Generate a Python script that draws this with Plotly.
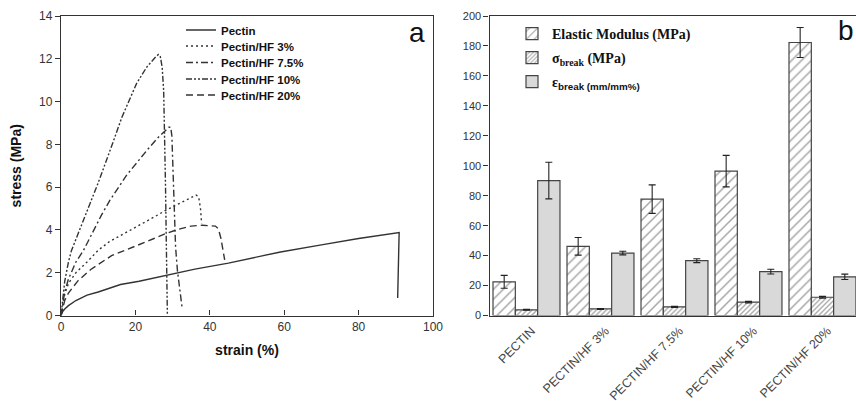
import plotly.graph_objects as go

# ---------------- Panel a: stress-strain curves ----------------
pectin_strain = [0, 0.5, 1, 2, 4, 7, 10, 16, 21, 28, 36, 45, 51, 59, 70, 80, 90.9, 90.5]
pectin_stress = [0, 0.2, 0.3, 0.46, 0.7, 0.95, 1.1, 1.45, 1.6, 1.87, 2.17, 2.45, 2.67, 2.97, 3.3, 3.6, 3.88, 0.82]

hf3_strain = [0, 0.5, 1, 2, 4, 7, 10, 13, 20, 25, 28, 32, 35, 36.3, 37.0, 37.5, 37.8]
hf3_stress = [0, 0.6, 1.0, 1.5, 2.0, 2.5, 3.05, 3.45, 4.1, 4.6, 4.9, 5.25, 5.5, 5.63, 5.55, 5.0, 4.3]

hf75_strain = [0, 0.5, 1, 2, 4, 6, 10.9, 13.2, 17.6, 23.1, 26, 29, 29.5, 29.8, 30.0, 30.3, 30.8, 31.3, 32, 32.6]
hf75_stress = [0, 0.6, 1.1, 1.7, 2.5, 3.03, 4.7, 5.4, 6.55, 7.72, 8.3, 8.8, 8.8, 8.4, 7.3, 5.0, 3.2, 2.1, 1.0, 0.3]

hf10_strain = [0, 0.5, 1, 2, 2.8, 5, 8.2, 10, 13.2, 16.4, 20.3, 23, 25.5, 26.2, 26.7, 27.2, 27.6, 27.9, 28.1, 28.3, 28.5, 28.6]
hf10_stress = [0, 0.9, 1.6, 2.5, 3.03, 4.0, 5.38, 6.2, 7.72, 9.28, 10.84, 11.6, 12.1, 12.2, 12.1, 11.6, 10.5, 8.5, 6.0, 3.5, 1.5, 0]

hf20_strain = [0, 0.5, 1, 2, 4.6, 8, 13.6, 18, 21.4, 25, 28, 31, 35, 38, 41.5, 42.3, 43, 43.5, 44]
hf20_stress = [0, 0.4, 0.7, 1.05, 1.63, 2.15, 2.8, 3.1, 3.36, 3.6, 3.82, 4.0, 4.18, 4.22, 4.18, 4.05, 3.6, 3.0, 2.6]

curve_names = ["Pectin", "Pectin/HF 3%", "Pectin/HF 7.5%", "Pectin/HF 10%", "Pectin/HF 20%"]

# ---------------- Panel b: mechanical properties ----------------
samples = ["PECTIN", "PECTIN/HF 3%", "PECTIN/HF 7.5%", "PECTIN/HF 10%", "PECTIN/HF 20%"]
modulus = [22.5, 46.2, 77.7, 96.4, 182.3]
modulus_err = [4.3, 5.9, 9.5, 10.5, 10.0]
sigma_break = [3.8, 4.4, 5.8, 8.9, 12.2]
sigma_err = [0.3, 0.3, 0.4, 0.5, 0.6]
eps_break = [90.1, 41.7, 36.6, 29.3, 25.8]
eps_err = [12.2, 1.2, 1.3, 1.6, 1.8]
prop_names = ["Elastic Modulus (MPa)",
              "σ<sub>break</sub> (MPa)",
              "ε<sub><span style='font-family:Liberation Sans'>break (mm/mm%)</span></sub>"]

W, H = 856, 401
def px(x): return x / W
def py(y): return 1 - y / H

INK = "#333333"
fig = go.Figure()

dashes = ["solid", "2px,3px", "7px,3px,2px,3px", "6px,2px,2px,2px,2px,2px", "7px,4px"]
curves = [(pectin_strain, pectin_stress), (hf3_strain, hf3_stress), (hf75_strain, hf75_stress),
          (hf10_strain, hf10_stress), (hf20_strain, hf20_stress)]
left_rows = [30, 46, 62.5, 79, 95]
legends = {}
for i, (name, (xs, ys), dash) in enumerate(zip(curve_names, curves, dashes)):
    lg = f"legend{i + 1}" if i > 0 else "legend"
    fig.add_trace(go.Scatter(x=xs, y=ys, mode="lines", name=name, showlegend=True,
                             line=dict(color=INK, width=1.4, dash=dash),
                             xaxis="x", yaxis="y", legend=lg))
    legends[lg] = dict(x=px(181), y=py(left_rows[i]), xanchor="left", yanchor="middle",
                       bgcolor="rgba(0,0,0,0)", visible=True,
                       font=dict(family="Liberation Sans, Arial", size=11.5, color="#111", weight="bold"),
                       itemwidth=30)

bar_line = dict(color="#444444", width=1.2)
err_style = dict(type="data", visible=True, color="#222222", thickness=1.1, width=3.5)
markers = [
    dict(color="white", line=bar_line,
         pattern=dict(shape="/", size=7, solidity=0.2, fgcolor="#444444", bgcolor="white")),
    dict(color="white", line=bar_line,
         pattern=dict(shape="/", size=3.5, solidity=0.4, fgcolor="#555555", bgcolor="white")),
    dict(color="#d9d9d9", line=bar_line),
]
right_rows = [34, 58, 82]
for j, (name, vals, errs, mk) in enumerate(zip(prop_names, [modulus, sigma_break, eps_break],
                                                [modulus_err, sigma_err, eps_err], markers)):
    lg = f"legend{6 + j}"
    fig.add_trace(go.Bar(x=samples, y=vals, name=name, showlegend=True,
                         error_y=dict(array=errs, **err_style), marker=mk,
                         xaxis="x2", yaxis="y2", legend=lg))
    legends[lg] = dict(x=px(512), y=py(right_rows[j]), xanchor="left", yanchor="middle",
                       bgcolor="rgba(0,0,0,0)", visible=True,
                       font=dict(family="Liberation Serif, Times New Roman", size=14, color="#111", weight="bold"),
                       itemwidth=30)

tickfont = dict(family="Liberation Sans, Arial", size=12, color=INK)
top, bottom = 16, 315.5

fig.update_layout(
    width=W, height=H, margin=dict(l=0, r=0, t=0, b=0, autoexpand=False),
    paper_bgcolor="white", plot_bgcolor="white", showlegend=True,
    barmode="group", bargap=0.095, bargroupgap=0,
    xaxis=dict(domain=[px(61), px(433)], range=[0, 100], tickvals=[0, 20, 40, 60, 80, 100],
               showgrid=False, zeroline=False, showline=True, linecolor=INK, linewidth=1.3,
               mirror=True, ticks="inside", ticklen=5, tickcolor=INK, tickfont=tickfont, automargin=False,
               title=dict(text="<b>strain (%)</b>", font=dict(family="Liberation Sans, Arial", size=14, color="#111"),
                          standoff=12)),
    yaxis=dict(domain=[py(bottom), py(top)], range=[0, 14], tickvals=list(range(0, 15, 2)),
               showgrid=False, zeroline=False, showline=True, linecolor=INK, linewidth=1.3,
               mirror=True, ticks="outside", ticklen=5, tickcolor=INK, tickfont=tickfont, automargin=False,
               title=dict(text="<b>stress (MPa)</b>", font=dict(family="Liberation Sans, Arial", size=14, color="#111"),
                          standoff=14)),
    xaxis2=dict(domain=[px(489.5), 1.0], range=[-0.5, 4.453], anchor="y2", automargin=False,
                showgrid=False, zeroline=False, showline=True, linecolor=INK, linewidth=1.3,
                mirror=True, ticks="", tickangle=-45, ticklabelshift=5, ticklabelstandoff=2,
                tickfont=dict(family="Liberation Sans, Arial", size=12.5, color="#444")),
    yaxis2=dict(domain=[py(bottom), py(top)], range=[0, 200], anchor="x2", tickvals=list(range(0, 201, 20)),
                showgrid=False, zeroline=False, showline=True, linecolor=INK, linewidth=1.3, automargin=False,
                mirror=False, ticks="outside", ticklen=5, tickcolor=INK,
                tickfont=dict(family="Liberation Sans, Arial", size=11, color=INK)),
    annotations=[
        dict(text="a", x=px(417), y=py(33), xref="paper", yref="paper", showarrow=False,
             xanchor="center", yanchor="middle",
             font=dict(family="Liberation Sans, Arial", size=28, color="#111")),
        dict(text="b", x=px(846), y=py(30), xref="paper", yref="paper", showarrow=False,
             xanchor="center", yanchor="middle",
             font=dict(family="Liberation Sans, Arial", size=28, color="#111")),
    ],
    **legends,
)

fig.write_html("out.html")
